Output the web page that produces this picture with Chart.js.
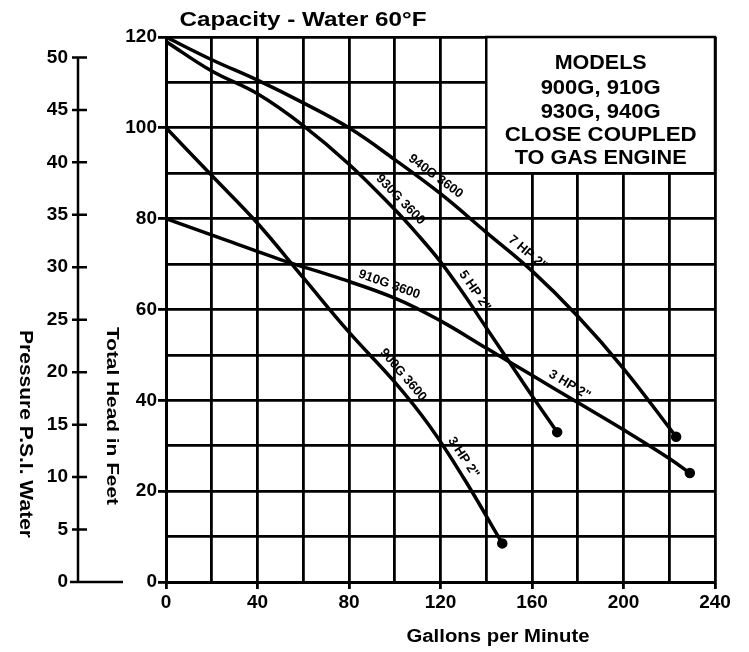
<!DOCTYPE html>
<html>
<head>
<meta charset="utf-8">
<script src="https://cdn.jsdelivr.net/npm/chart.js@4.4.1/dist/chart.umd.min.js"></script>
<style>
  body { margin: 0; background: #fff; }
</style>
</head>
<body>
<canvas id="pumpChart" width="749" height="652"></canvas>
<script>
// curves: gallons per minute vs total head (ft)
const gpm940 = [0, 20, 40, 60, 80, 100, 120, 140, 160, 180, 200, 223];
const head940 = [120, 115, 110.5, 105.5, 100, 93, 85.5, 77, 68.5, 58.5, 47, 32];
const gpm930 = [0, 20, 40, 60, 80, 100, 110, 120, 130, 140, 150, 160, 171];
const head930 = [119, 112.5, 107.5, 100.5, 92, 82, 76.5, 70.5, 63.5, 56, 48.5, 41, 33];
const gpm910 = [0, 25, 50, 75, 100, 120, 140, 160, 180, 200, 220, 229];
const head910 = [80, 75.5, 71, 67, 62.5, 57.5, 51.5, 45.5, 39.5, 33.5, 27.2, 24];
const gpm900 = [0, 20, 40, 60, 80, 100, 115, 130, 147];
const head900 = [100, 89.5, 79, 67, 55, 44, 34.5, 23, 8.5];

const curveLabels = [
  ["940G 3600", "7 HP 2\""],
  ["930G 3600", "5 HP 2\""],
  ["910G 3600", "3 HP 2\""],
  ["900G 3600", "3 HP 2\""]
];
const labelAt = [[115, 155], [99, 131], [96, 174], [100, 126]];

const psiTicks = [0, 5, 10, 15, 20, 25, 30, 35, 40, 45, 50];
const boxLines = ["MODELS", "900G, 910G", "930G, 940G", "CLOSE COUPLED", "TO GAS ENGINE"];
const FT_PER_PSI = 2.31;

const FONT = "'Liberation Sans', Arial, sans-serif";

function pts(xs, ys) {
  return xs.map((x, i) => ({ x: x, y: ys[i] }));
}

function curve(xs, ys) {
  const last = xs.length - 1;
  return {
    data: pts(xs, ys),
    showLine: true,
    borderColor: "#000",
    borderWidth: 3.5,
    pointRadius: (c) => (c.dataIndex === last ? 3.5 : 0),
    pointBackgroundColor: "#000",
    pointBorderColor: "#000",
    tension: 0.4
  };
}

function fitText(ctx, text, x, y, w, size, rot) {
  ctx.save();
  ctx.translate(x, y);
  ctx.rotate(rot || 0);
  ctx.font = "bold " + size + "px " + FONT;
  const m = ctx.measureText(text).width;
  ctx.scale(w / m, 1);
  ctx.textAlign = "center";
  ctx.textBaseline = "middle";
  ctx.fillStyle = "#000";
  ctx.fillText(text, 0, 0);
  ctx.restore();
}

function headAt(xs, ys, g) {
  for (let i = 1; i < xs.length; i++) {
    if (g <= xs[i]) {
      const t = (g - xs[i - 1]) / (xs[i] - xs[i - 1]);
      return ys[i - 1] + t * (ys[i] - ys[i - 1]);
    }
  }
  return ys[ys.length - 1];
}

const allX = [gpm940, gpm930, gpm910, gpm900];
const allY = [head940, head930, head910, head900];

const extras = {
  id: "extras",
  beforeDatasetsDraw(chart) {
    const ctx = chart.ctx;
    const xs = chart.scales.x, ys = chart.scales.y, ps = chart.scales.psi;

    // models box hides the grid in the top right corner
    const bx1 = xs.getPixelForValue(140), bx2 = xs.getPixelForValue(240);
    const by1 = ys.getPixelForValue(120), by2 = ys.getPixelForValue(90);
    ctx.save();
    ctx.fillStyle = "#fff";
    ctx.fillRect(bx1, by1, bx2 - bx1, by2 - by1);
    ctx.strokeStyle = "#000";
    ctx.lineWidth = 2.5;
    ctx.strokeRect(bx1, by1, bx2 - bx1, by2 - by1);
    ctx.restore();
    const cx = (bx1 + bx2) / 2;
    const lineY = [63, 88, 112, 135, 158];
    const lineW = [92, 120, 120, 192, 172];
    boxLines.forEach((t, i) => fitText(ctx, t, cx, lineY[i], lineW[i], 20));

    // pressure axis drawn on the psi scale
    const px = ps.right;
    ctx.save();
    ctx.strokeStyle = "#000";
    ctx.lineWidth = 2.5;
    ctx.beginPath();
    ctx.moveTo(px, ps.getPixelForValue(50));
    ctx.lineTo(px, ps.getPixelForValue(0));
    psiTicks.forEach((v) => {
      const py = ps.getPixelForValue(v);
      ctx.moveTo(px - 6, py);
      ctx.lineTo(px + 9, py);
    });
    const y0 = ps.getPixelForValue(0);
    ctx.moveTo(px - 8, y0);
    ctx.lineTo(px + 45, y0);
    ctx.stroke();
    ctx.restore();

    // titles
    fitText(ctx, "Capacity - Water 60\u00B0F", 303, 20, 247, 21);
    fitText(ctx, "Gallons per Minute", 498, 637, 183, 18);
    fitText(ctx, "Pressure P.S.I. Water", 25, 434, 208, 18, Math.PI / 2);
    fitText(ctx, "Total Head in Feet", 112, 416, 178, 17, Math.PI / 2);
  },
  afterDatasetsDraw(chart) {
    const ctx = chart.ctx;
    const xs = chart.scales.x, ys = chart.scales.y;
    curveLabels.forEach((pair, k) => {
      pair.forEach((text, j) => {
        const g = labelAt[k][j];
        const x1 = xs.getPixelForValue(g - 4), y1 = ys.getPixelForValue(headAt(allX[k], allY[k], g - 4));
        const x2 = xs.getPixelForValue(g + 4), y2 = ys.getPixelForValue(headAt(allX[k], allY[k], g + 4));
        const a = Math.atan2(y2 - y1, x2 - x1);
        const x = xs.getPixelForValue(g), y = ys.getPixelForValue(headAt(allX[k], allY[k], g));
        const off = 11;
        ctx.save();
        ctx.translate(x + Math.sin(a) * off, y - Math.cos(a) * off);
        ctx.rotate(a);
        ctx.font = "bold 13px " + FONT;
        ctx.textAlign = "center";
        ctx.textBaseline = "middle";
        ctx.fillStyle = "#000";
        ctx.fillText(text, 0, 0);
        ctx.restore();
      });
    });
  }
};

const tickFont = { family: FONT, size: 19, weight: "bold" };

new Chart(document.getElementById("pumpChart"), {
  type: "scatter",
  data: {
    datasets: [
      curve(gpm940, head940),
      curve(gpm930, head930),
      curve(gpm910, head910),
      curve(gpm900, head900)
    ]
  },
  options: {
    responsive: false,
    animation: false,
    layout: { padding: { top: 37, right: 34, bottom: 0, left: 0 } },
    plugins: { legend: { display: false }, tooltip: { enabled: false } },
    scales: {
      x: {
        type: "linear",
        min: 0,
        max: 240,
        ticks: {
          stepSize: 20,
          autoSkip: false,
          maxRotation: 0,
          color: "#000",
          font: tickFont,
          padding: 2,
          callback: (v) => (v % 40 === 0 ? v : "")
        },
        grid: {
          color: "#000",
          lineWidth: 2.8,
          tickLength: 7,
          tickColor: (c) => (c.tick && c.tick.value % 40 === 0 ? "#000" : "rgba(0,0,0,0)")
        },
        border: { color: "#000", width: 3 },
        afterFit: (s) => { s.height = 70; }
      },
      y: {
        type: "linear",
        position: "left",
        weight: 0,
        min: 0,
        max: 120,
        ticks: {
          stepSize: 10,
          autoSkip: false,
          color: "#000",
          font: tickFont,
          padding: 1,
          callback: (v) => (v % 20 === 0 ? v : "")
        },
        grid: {
          color: "#000",
          lineWidth: 2.8,
          tickLength: 8,
          tickColor: (c) => (c.tick && c.tick.value % 20 === 0 ? "#000" : "rgba(0,0,0,0)")
        },
        border: { color: "#000", width: 3 },
        afterFit: (s) => { s.width = 88; }
      },
      psi: {
        type: "linear",
        axis: "y",
        position: "left",
        weight: 1,
        min: 0,
        max: 120 / FT_PER_PSI,
        afterBuildTicks: (s) => { s.ticks = psiTicks.map((v) => ({ value: v })); },
        ticks: {
          autoSkip: false,
          color: "#000",
          font: tickFont,
          padding: 10
        },
        grid: { display: false, drawTicks: false },
        border: { display: false },
        afterFit: (s) => { s.width = 78; }
      }
    }
  },
  plugins: [extras]
});
</script>
</body>
</html>
